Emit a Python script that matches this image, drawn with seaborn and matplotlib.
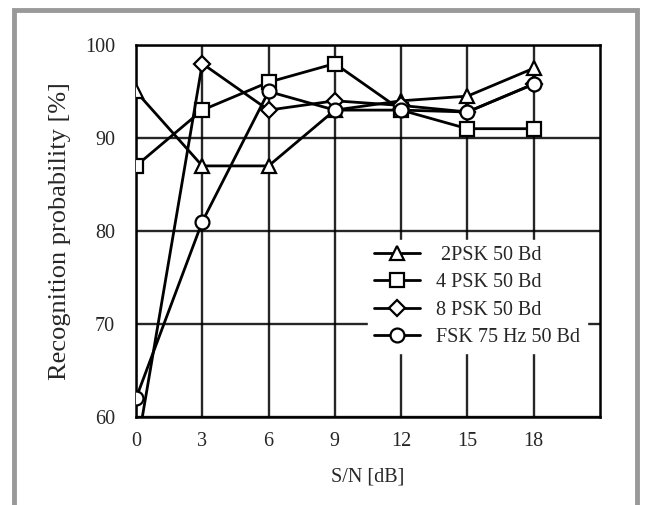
import seaborn as sns
import matplotlib.pyplot as plt
import pandas as pd
from matplotlib.patches import Rectangle

# data
snr_db = [0, 3, 6, 9, 12, 15, 18]
psk2 = [95, 87, 87, 93, 94, 94.5, 97.5]
psk4 = [87, 93, 96, 98, 93, 91, 91]
psk8 = [56, 98, 93, 94, 93.5, 92.8, 95.8]
fsk = [62, 81, 95, 93, 93, 92.8, 95.8]

series = [" 2PSK 50 Bd", "4 PSK 50 Bd", "8 PSK 50 Bd", "FSK 75 Hz 50 Bd"]
markers = ["^", "s", "D", "o"]
msizes = [10, 10, 8.5, 10]

df = pd.DataFrame({
    "snr": snr_db * 4,
    "prob": psk2 + psk4 + psk8 + fsk,
    "mod": sum([[s] * len(snr_db) for s in series], []),
})

sns.set_style("white")
plt.rcParams["font.family"] = ["Liberation Serif", "DejaVu Serif"]

fig = plt.figure(figsize=(6.46, 5.05), dpi=100)
ax = fig.add_axes([136 / 646, 1 - 417 / 505, 464 / 646, 372 / 505])

for name, m, ms in zip(series, markers, msizes):
    sns.lineplot(data=df[df["mod"] == name], x="snr", y="prob", ax=ax,
                 color="black", lw=2, marker=m, ms=ms, mfc="white",
                 mec="black", mew=1.6, label=name, zorder=3)

ax.set_xlim(0, 21)
ax.set_ylim(60, 100)
ax.set_xticks(snr_db)
ax.set_yticks([60, 70, 80, 90, 100])
ax.grid(True, color="black", lw=1.7, alpha=0.85)
ax.set_axisbelow(True)
for sp in ax.spines.values():
    sp.set_color("black")
    sp.set_linewidth(1.8)
ax.tick_params(axis="both", labelsize=14.5, length=3, width=1.2, pad=8, color="black")
ax.tick_params(axis="y", pad=12)

ax.set_xlabel("S/N [dB]", fontsize=14.5, labelpad=12)
ax.set_ylabel("Recognition probability [%]", fontsize=19, labelpad=10)

leg = ax.legend(loc="upper left", bbox_to_anchor=(0.50, 0.477), fontsize=14.5,
                frameon=True, fancybox=False, handlelength=2.3, handletextpad=0.8,
                labelspacing=0.42, borderpad=0.3, borderaxespad=0)
leg.get_frame().set_edgecolor("white")
leg.get_frame().set_facecolor("white")
leg.get_frame().set_alpha(1)

# grey page frame around the figure
fig.add_artist(Rectangle((14 / 646, -0.1), (637 - 14) / 646, 1.08, transform=fig.transFigure,
                         fill=False, ec="#999999", lw=3.5))

fig.savefig("out.png", dpi=100)
